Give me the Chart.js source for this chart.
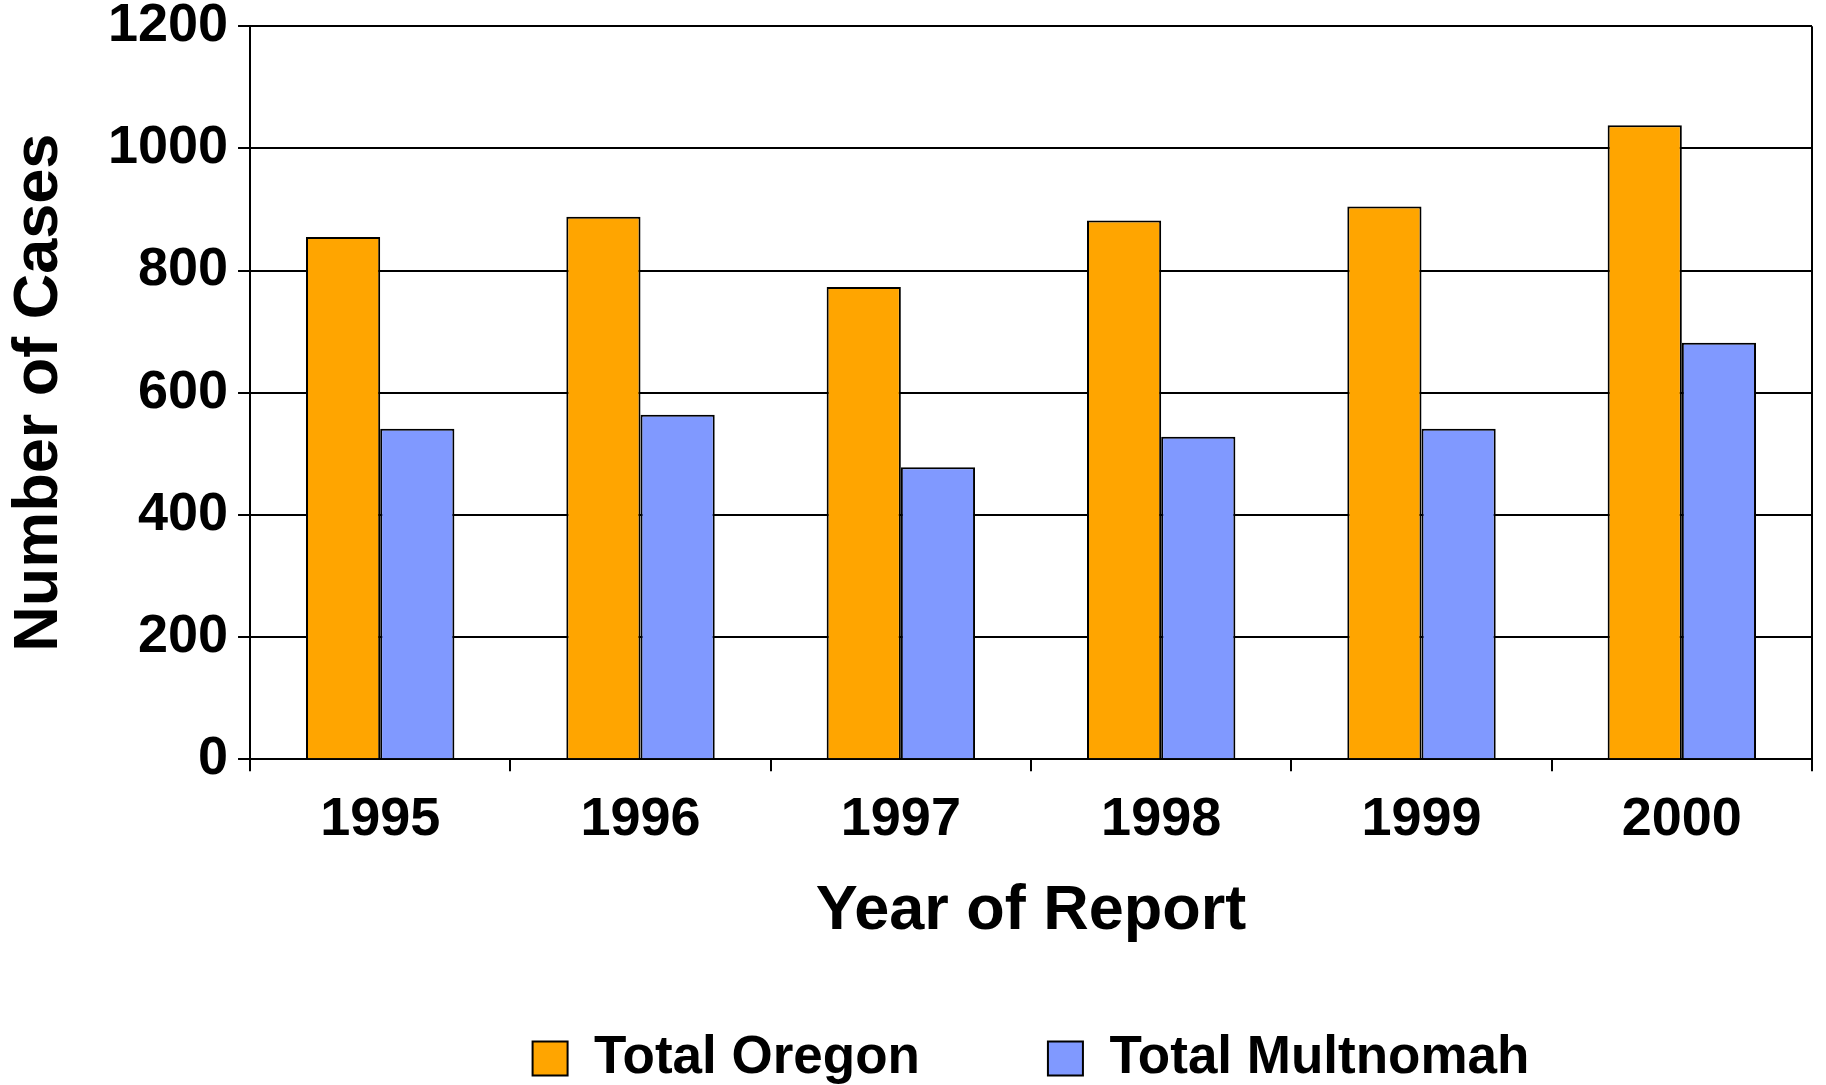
<!DOCTYPE html>
<html><head><meta charset="utf-8">
<script src="https://cdn.jsdelivr.net/npm/chart.js@4.4.0/dist/chart.umd.min.js"></script>
<style>html,body{margin:0;padding:0;background:#fff;}</style>
</head><body>
<canvas id="c" width="1826" height="1085" style="width:1826px;height:1085px;display:block"></canvas>
<script>
const categories = ['1995', '1996', '1997', '1998', '1999', '2000'];
const totalOregon = [855, 888, 773, 882, 905, 1038];
const totalMultnomah = [541, 564, 478, 528, 541, 682];
const seriesNames = ['Total Oregon', 'Total Multnomah'];
const yMin = 0, yMax = 1200, yStep = 200;

const FAMILY = "'Liberation Sans', Arial, sans-serif";
Chart.defaults.font.family = FAMILY;
Chart.defaults.color = '#000';

new Chart(document.getElementById('c'), {
  type: 'bar',
  data: {
    labels: categories,
    datasets: [
      { label: seriesNames[0], data: totalOregon, backgroundColor: '#FFA500', borderColor: '#000', borderWidth: 2,
        categoryPercentage: 0.57, barPercentage: 1.0 },
      { label: seriesNames[1], data: totalMultnomah, backgroundColor: '#8099FF', borderColor: '#000', borderWidth: 2,
        categoryPercentage: 0.57, barPercentage: 1.0 }
    ]
  },
  options: {
    responsive: false,
    animation: false,
    devicePixelRatio: 1,
    layout: { padding: { top: 0, left: 0, right: 14, bottom: -10 } },
    plugins: {
      tooltip: { enabled: false },
      legend: {
        position: 'bottom',
        fullSize: false,
        labels: {
          boxWidth: 35, boxHeight: 34, padding: 128, color: '#000',
          font: { size: 53, weight: 'bold', family: FAMILY }
        }
      }
    },
    scales: {
      x: {
        grid: {
          offset: true,
          drawOnChartArea: true,
          color: (c) => (c.type === 'scale' ? '#000' : 'rgba(0,0,0,0)'),
          tickColor: '#000',
          lineWidth: 2,
          tickWidth: 2,
          tickLength: 12
        },
        border: { display: true, color: '#000', width: 2 },
        ticks: { color: '#000', padding: 16, maxRotation: 0, font: { size: 54, weight: 'bold', family: FAMILY } },
        title: { display: true, text: 'Year of Report', color: '#000',
          font: { size: 63, weight: 'bold', family: FAMILY }, padding: { top: 5.8, bottom: -45.5 } }
      },
      y: {
        min: yMin, max: yMax,
        ticks: { stepSize: yStep, color: '#000', padding: 10,
          callback: (v) => String(v),
          font: { size: 54, weight: 'bold', family: FAMILY, lineHeight: 0.6 } },
        grid: { color: '#000', lineWidth: 2, tickLength: 12, tickColor: '#000', tickWidth: 2 },
        border: { display: true, color: '#000', width: 2 },
        title: { display: true, text: 'Number of Cases', color: '#000',
          font: { size: 63, weight: 'bold', family: FAMILY }, padding: { top: 2, bottom: 20.3 } }
      }
    }
  }
});
</script>
</body></html>
